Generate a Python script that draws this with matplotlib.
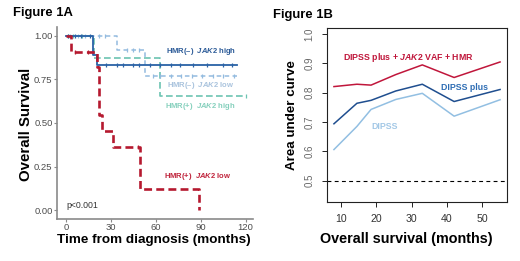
import numpy as np
import matplotlib
matplotlib.use('Agg')
import matplotlib.pyplot as plt

plt.rcParams.update({
    'font.family': 'Liberation Sans',
    'mathtext.fontset': 'custom',
    'mathtext.rm': 'Liberation Sans:bold',
    'mathtext.it': 'Liberation Sans:italic:bold',
    'mathtext.bf': 'Liberation Sans:bold',
})

# --- Figure 1A: Kaplan-Meier step curves (time in months, survival) ---
km_hi_neg_t = [0, 18, 21, 114]
km_hi_neg_s = [1.0, 0.889, 0.83, 0.83]
km_hi_neg_cens = [1.5, 6, 10, 16, 27, 34, 38, 45, 49, 56, 63, 70, 76, 85, 94, 105, 111]

km_lo_neg_t = [0, 33.8, 52.5, 114]
km_lo_neg_s = [1.0, 0.917, 0.771, 0.771]
km_lo_neg_cens = [3, 8, 13, 22, 26, 41, 45, 49, 58, 63, 70, 77, 84, 91, 98, 105, 112]

km_hi_pos_t = [0, 18.5, 63, 120]
km_hi_pos_s = [1.0, 0.875, 0.656, 0.656]
km_hi_pos_cens = [1.3, 4.7, 11, 120]

km_lo_pos_t = [0, 3.5, 20.5, 22, 24, 31.5, 49.5, 89]
km_lo_pos_s = [1.0, 0.909, 0.818, 0.545, 0.455, 0.364, 0.121, 0.0]
km_lo_pos_cens = [6, 14.5, 48]

# --- Figure 1B: time-dependent AUC ---
auc_time = [8, 14.5, 18.5, 25.5, 33, 42, 55]
auc_full = [0.821, 0.829, 0.826, 0.862, 0.895, 0.852, 0.905]
auc_plus = [0.694, 0.764, 0.774, 0.806, 0.829, 0.770, 0.811]
auc_dipss = [0.606, 0.685, 0.743, 0.777, 0.798, 0.720, 0.776]

C_DB = '#2a62a6'
C_LB = '#93bbdf'
C_TE = '#6cc4b2'
C_RD = '#b5192f'

fig = plt.figure(figsize=(5.2, 2.61), dpi=100)

# ---------------- Figure 1A ----------------
ax = fig.add_axes([57 / 520, 1 - 219 / 261, 196 / 520, 192 / 261])


def km(ax, t, s, cens, color, lw, dashes, z):
    line, = ax.step(t, s, where='post', color=color, lw=lw, zorder=z)
    if dashes is not None:
        line.set_dashes(dashes)
    idx = np.searchsorted(t, cens, side='right') - 1
    ax.plot(cens, np.array(s)[idx], ls='none', marker='|', ms=3.5,
            mew=0.9, color=color, zorder=z)


km(ax, km_hi_pos_t, km_hi_pos_s, km_hi_pos_cens, C_TE, 1.2, (4, 2), 2)
km(ax, km_lo_neg_t, km_lo_neg_s, km_lo_neg_cens, C_LB, 1.1, (3, 2.2), 3)
km(ax, km_hi_neg_t, km_hi_neg_s, km_hi_neg_cens, C_DB, 1.3, None, 4)
km(ax, km_lo_pos_t, km_lo_pos_s, km_lo_pos_cens, C_RD, 1.9, (3, 1.6), 5)

ax.set_xlim(-6, 125)
ax.set_ylim(-0.05, 1.05)
ax.set_xticks([0, 30, 60, 90, 120])
ax.set_yticks([0, 0.25, 0.5, 0.75, 1.0])
ax.set_yticklabels(['0.00', '0.25', '0.50', '0.75', '1.00'])
for sp in ['top', 'right']:
    ax.spines[sp].set_visible(False)
for sp in ['left', 'bottom']:
    ax.spines[sp].set_color('#8a8a8a')
    ax.spines[sp].set_linewidth(1.2)
ax.tick_params(length=2, width=0.8, color='#8a8a8a', labelsize=6.8,
               labelcolor='#4d4d4d', pad=1.2)

ax.set_ylabel('Overall Survival', fontsize=10.8, fontweight='bold')
ax.yaxis.set_label_coords(-0.160, 0.492)
ax.yaxis.label.set_va('center')
ax.set_xlabel('Time from diagnosis (months)', fontsize=9.7, fontweight='bold')
ax.xaxis.set_label_coords(0.494, -0.109)
ax.xaxis.label.set_va('center')

lab = dict(fontsize=5.5, va='center', ha='left', fontweight='bold')
ax.text(67, 0.907, r'HMR(–)  $\mathit{JAK2}$ high', color='#2c5b98', **lab)
ax.text(67.8, 0.714, r'HMR(–)  $\mathit{JAK2}$ low', color='#a9c3dd', **lab)
ax.text(66, 0.596, r'HMR(+)  $\mathit{JAK2}$ high', color='#86d0bd', **lab)
ax.text(65.3, 0.193, r'HMR(+)  $\mathit{JAK2}$ low', color='#c0243c', **lab)
ax.text(0, 0.029, 'p<0.001', fontsize=6.3, color='#333333', va='center', ha='left')

fig.text(12.7 / 520, 1 - 13.3 / 261, 'Figure 1A', fontsize=9.4,
         fontweight='bold', va='center', ha='left')

# ---------------- Figure 1B ----------------
bx = fig.add_axes([327.3 / 520, 1 - 201.7 / 261, 179.4 / 520, 174 / 261])
bx.plot(auc_time, auc_full, color='#c0163b', lw=1.1)
bx.plot(auc_time, auc_plus, color='#1f4e8f', lw=1.1)
bx.plot(auc_time, auc_dipss, color='#92bfe2', lw=1.1)
bx.axhline(0.5, color='black', lw=0.8, dashes=(3.5, 3))

bx.set_xlim(6.12, 56.88)
bx.set_ylim(0.428, 1.022)
bx.set_xticks([10, 20, 30, 40, 50])
bx.set_yticks([0.5, 0.6, 0.7, 0.8, 0.9, 1.0])
bx.set_yticklabels(['0.5', '0.6', '0.7', '0.8', '0.9', '1.0'], rotation=90,
                   va='center')
for sp in bx.spines.values():
    sp.set_linewidth(0.8)
    sp.set_color('#222222')
bx.tick_params(axis='both', length=3.6, width=0.7, color='#222222')
bx.tick_params(axis='y', labelsize=7, labelcolor='#666666', pad=5.5)
bx.tick_params(axis='x', labelsize=7.6, labelcolor='#333333', pad=5.5)

bx.set_ylabel('Area under curve', fontsize=9.6, fontweight='bold')
bx.yaxis.set_label_coords(-0.198, 0.498)
bx.yaxis.label.set_va('center')
bx.set_xlabel('Overall survival (months)', fontsize=10.4, fontweight='bold')
bx.xaxis.set_label_coords(0.443, -0.216)
bx.xaxis.label.set_va('center')

lab2 = dict(fontsize=6.3, va='center', ha='left', fontweight='bold')
bx.text(10.45, 0.920, r'DIPSS plus + $\mathit{JAK2}$ VAF + HMR', color='#c0163b', **lab2)
bx.text(38.2, 0.817, 'DIPSS plus', color='#2e6db4', **lab2)
bx.text(18.6, 0.686, 'DIPSS', color='#a3c8e6', **lab2)

fig.text(272.7 / 520, 1 - 15 / 261, 'Figure 1B', fontsize=9.4,
         fontweight='bold', va='center', ha='left')

fig.savefig('out.png', dpi=100)
